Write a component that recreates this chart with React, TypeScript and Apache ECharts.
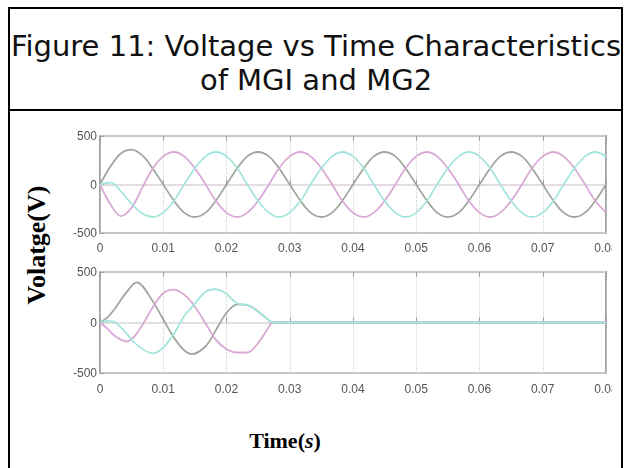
import React, { useEffect, useRef } from "react";
import * as echarts from "echarts";

// Sample instants (s) for the MG1 traces, every 30 electrical degrees at 50 Hz
const TOP_TIME = [
  0, 0.0017, 0.0033, 0.005, 0.0067, 0.0083, 0.01, 0.0117, 0.0133, 0.015, 0.0167, 0.0183,
  0.02, 0.0217, 0.0233, 0.025, 0.0267, 0.0283, 0.03, 0.0317, 0.0333, 0.035, 0.0367, 0.0383,
  0.04, 0.0417, 0.0433, 0.045, 0.0467, 0.0483, 0.05, 0.0517, 0.0533, 0.055, 0.0567, 0.0583,
  0.06, 0.0617, 0.0633, 0.065, 0.0667, 0.0683, 0.07, 0.0717, 0.0733, 0.075, 0.0767, 0.0783,
  0.08,
];

// MG1 phase voltages (V)
const TOP_PHASE_A = [
  0, 190, 320, 360, 300, 168, 0, -168, -290, -335, -290, -168,
  0, 168, 290, 335, 290, 168, 0, -168, -290, -335, -290, -168,
  0, 168, 290, 335, 290, 168, 0, -168, -290, -335, -290, -168,
  0, 168, 290, 335, 290, 168, 0, -168, -290, -335, -290, -168,
  0,
];
const TOP_PHASE_B = [
  0, -210, -325, -240, -30, 160, 290, 335, 290, 168, 0, -168,
  -290, -335, -290, -168, 0, 168, 290, 335, 290, 168, 0, -168,
  -290, -335, -290, -168, 0, 168, 290, 335, 290, 168, 0, -168,
  -290, -335, -290, -168, 0, 168, 290, 335, 290, 168, 0, -168,
  -290,
];
const TOP_PHASE_C = [
  0, 20, -70, -200, -300, -335, -290, -168, 0, 168, 290, 335,
  290, 168, 0, -168, -290, -335, -290, -168, 0, 168, 290, 335,
  290, 168, 0, -168, -290, -335, -290, -168, 0, 168, 290, 335,
  290, 168, 0, -168, -290, -335, -290, -168, 0, 168, 290, 335,
  290,
];

// MG2 traces: collapse to zero shortly after 0.027 s
const BOTTOM_TIME = [
  0, 0.0012, 0.0024, 0.0042, 0.0058, 0.0083, 0.01, 0.0117, 0.0133, 0.0145, 0.0167, 0.0183,
  0.02, 0.0217, 0.0233, 0.025, 0.0267, 0.0273, 0.08,
];
const BOTTOM_PHASE_A = [0, 50, 141, 300, 397, 215, 30, -150, -275, -313, -235, -78, 94, 180, 172, 110, 22, 0, 0];
const BOTTOM_PHASE_B = [0, -63, -135, -188, -110, 145, 290, 325, 275, 200, -10, -170, -265, -297, -297, -203, -44, 0, 0];
const BOTTOM_PHASE_C = [0, 15, 0, -110, -219, -305, -250, -110, 63, 150, 304, 329, 282, 188, 172, 110, 22, 0, 0];

const X_MIN = 0;
const X_MAX = 0.08;
const X_STEP = 0.01;
const Y_MIN = -500;
const Y_MAX = 500;
const Y_STEP = 500;

const PHASE_COLORS = ["#9da79d", "#d9a8d5", "#a4e5de"];

const TICK_FONT = '"Liberation Sans Narrow", "Liberation Sans", Arial, sans-serif';

const pairs = (t: number[], v: number[]) => t.map((x, i) => [x, v[i]]);

const fmtTime = (v: number) => (Math.abs(v) < 1e-9 ? "0" : v.toFixed(2));

function buildPlotOption() {
  const grids = [
    { left: 100, top: 136, width: 506, height: 97 },
    { left: 100, top: 272, width: 506, height: 101 },
  ].map((g) => ({
    ...g,
    show: true,
    outerBoundsMode: "none",
    containLabel: false,
    borderColor: "#a0a0a0",
    borderWidth: 2,
    backgroundColor: "transparent",
  }));

  const xAxes: any[] = [];
  const yAxes: any[] = [];
  [0, 1].forEach((gi) => {
    xAxes.push({
      gridIndex: gi,
      type: "value",
      position: "bottom",
      min: X_MIN,
      max: X_MAX,
      interval: X_STEP,
      axisLine: { show: false },
      axisTick: { inside: true, length: 5, lineStyle: { color: "#a0a0a0", width: 1 } },
      axisLabel: {
        margin: gi === 0 ? 9 : 10,
        fontSize: 12,
        color: "#555",
        fontFamily: TICK_FONT,
        formatter: fmtTime,
        hideOverlap: false,
      },
      splitLine: { show: true, lineStyle: { type: "dotted", color: "#cfcfcf", width: 1 } },
    });
    xAxes.push({
      gridIndex: gi,
      type: "value",
      position: "top",
      min: X_MIN,
      max: X_MAX,
      interval: X_STEP,
      axisLine: { show: false },
      axisTick: { inside: true, length: 5, lineStyle: { color: "#a0a0a0", width: 1 } },
      axisLabel: { show: false },
      splitLine: { show: false },
    });
    yAxes.push({
      gridIndex: gi,
      type: "value",
      min: Y_MIN,
      max: Y_MAX,
      interval: Y_STEP,
      axisLine: { show: false },
      axisTick: { inside: true, length: 4, lineStyle: { color: "#a0a0a0" } },
      axisLabel: {
        margin: 3,
        fontSize: 12,
        color: "#555",
        fontFamily: TICK_FONT,
      },
      splitLine: {
        show: true,
        lineStyle: { color: gi === 0 ? "#dccfdc" : "#d6d6d6", width: 1.5 },
      },
    });
  });

  const mk = (name: string, t: number[], v: number[], color: string, gi: number) => ({
    name,
    type: "line",
    xAxisIndex: gi * 2,
    yAxisIndex: gi,
    data: pairs(t, v),
    showSymbol: false,
    smooth: 0.35,
    lineStyle: { color, width: 1.8 },
    emphasis: { disabled: true },
  });

  return {
    animation: false,
    grid: grids,
    xAxis: xAxes,
    yAxis: yAxes,
    series: [
      mk("MG1 A", TOP_TIME, TOP_PHASE_A, PHASE_COLORS[0], 0),
      mk("MG1 B", TOP_TIME, TOP_PHASE_B, PHASE_COLORS[1], 0),
      mk("MG1 C", TOP_TIME, TOP_PHASE_C, PHASE_COLORS[2], 0),
      mk("MG2 A", BOTTOM_TIME, BOTTOM_PHASE_A, PHASE_COLORS[0], 1),
      mk("MG2 B", BOTTOM_TIME, BOTTOM_PHASE_B, PHASE_COLORS[1], 1),
      mk("MG2 C", BOTTOM_TIME, BOTTOM_PHASE_C, PHASE_COLORS[2], 1),
    ],
  };
}

function buildFrameOption() {
  const serif = '"Liberation Serif", "Times New Roman", serif';
  const titleFont = '29px "DejaVu Sans", sans-serif';
  const centered = {
    align: "center",
    verticalAlign: "middle",
    textAlign: "center",
    textVerticalAlign: "middle",
  };
  return {
    animation: false,
    graphic: [
      {
        type: "rect",
        shape: { x: 9, y: 8, width: 613, height: 470 },
        style: { fill: "#fff", stroke: "#000", lineWidth: 2 },
      },
      {
        type: "line",
        shape: { x1: 9, y1: 110, x2: 622, y2: 110 },
        style: { stroke: "#000", lineWidth: 2 },
      },
      {
        type: "text",
        x: 316,
        y: 46,
        style: { text: "Figure 11: Voltage vs Time Characteristics", font: titleFont, fill: "#111", ...centered },
      },
      {
        type: "text",
        x: 316,
        y: 80,
        style: { text: "of MGI and MG2", font: titleFont, fill: "#111", ...centered },
      },
      {
        type: "text",
        x: 36,
        y: 245,
        rotation: Math.PI / 2,
        style: { text: "Volatge(V)", font: `bold 26px ${serif}`, fill: "#000", ...centered },
      },
      {
        type: "text",
        x: 285,
        y: 440,
        style: {
          text: "{a|Time(}{b|s}{a|)}",
          rich: {
            a: { font: `bold 22px ${serif}`, fill: "#000" },
            b: { font: `italic bold 22px ${serif}`, fill: "#000" },
          },
          ...centered,
        },
      },
    ],
  };
}

export default function App() {
  const frameRef = useRef<HTMLDivElement>(null);
  const plotRef = useRef<HTMLDivElement>(null);

  useEffect(() => {
    if (!frameRef.current || !plotRef.current) return;
    const frame = echarts.init(frameRef.current, undefined, { renderer: "svg" });
    frame.setOption(buildFrameOption());
    const plot = echarts.init(plotRef.current, undefined, { renderer: "svg" });
    plot.setOption(buildPlotOption());
    return () => {
      plot.dispose();
      frame.dispose();
    };
  }, []);

  return (
    <div style={{ position: "fixed", left: 0, top: 0, width: 629, height: 468, background: "#fff", overflow: "hidden" }}>
      <div ref={frameRef} style={{ position: "absolute", left: 0, top: 0, width: 629, height: 468 }} />
      <div
        ref={plotRef}
        style={{ position: "absolute", left: 0, top: 0, width: 612, height: 468, overflow: "hidden", filter: "blur(0.4px)" }}
      />
    </div>
  );
}
